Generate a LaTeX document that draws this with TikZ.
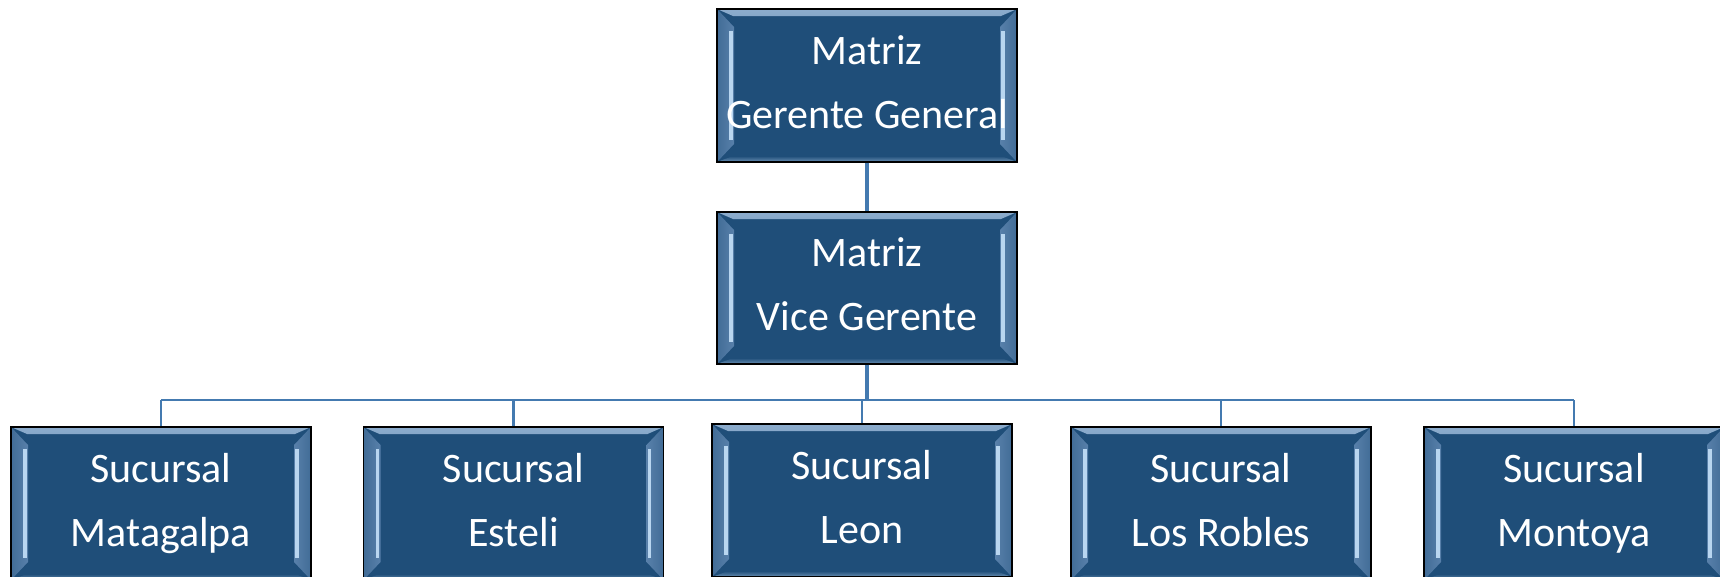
\documentclass[tikz,border=0pt]{standalone}
\usepackage{fontspec}
\setmainfont{Carlito}
\usetikzlibrary{calc}
\definecolor{boxfill}{RGB}{31,78,121}
\definecolor{bevelmid}{RGB}{88,128,170}
\definecolor{bevellite}{RGB}{185,214,240}
\definecolor{edgelite}{RGB}{140,172,205}
\definecolor{linkblue}{RGB}{68,122,176}
% fixed struts so every box sets its two lines at the same heights
\newcommand{\hitop}{\rule{0pt}{31pt}}
\newcommand{\lobot}{\rule[-10pt]{0pt}{10pt}}
\tikzset{
  orgbox/.style={
    draw=black, line width=1.4pt, fill=boxfill,
    minimum width=300pt, minimum height=153pt, inner sep=0pt,
    text=white, align=center,
    font=\fontsize{42}{64}\selectfont,
    path picture={
      \def\pb{path picture bounding box}
      % top and bottom rims
      \shade[top color=edgelite, bottom color=boxfill]
        (\pb.north west) -- (\pb.north east) -- ($(\pb.north east)+(-16,7)$)
        -- ($(\pb.north west)+(16,7)$) -- cycle;
      \shade[top color=boxfill, bottom color=edgelite!70!boxfill]
        (\pb.south west) -- (\pb.south east) -- ($(\pb.south east)+(-16,-6)$)
        -- ($(\pb.south west)+(16,-6)$) -- cycle;
      % side bevels
      \shade[left color=bevelmid!60!boxfill, right color=bevelmid]
        (\pb.north west) -- ($(\pb.north west)+(17,18)$)
        -- ($(\pb.south west)+(17,-18)$) -- (\pb.south west) -- cycle;
      \shade[left color=bevelmid, right color=bevelmid!60!boxfill]
        (\pb.north east) -- ($(\pb.north east)+(-17,18)$)
        -- ($(\pb.south east)+(-17,-18)$) -- (\pb.south east) -- cycle;
      % highlight lines on the bevels
      \draw[bevellite, line width=3.5pt]
        ($(\pb.north west)+(14,22)$) -- ($(\pb.south west)+(14,-22)$);
      \draw[bevellite, line width=3.5pt]
        ($(\pb.north east)+(-14,22)$) -- ($(\pb.south east)+(-14,-22)$);
    }
  },
  link/.style={draw=linkblue, line width=2.2pt},
  stem/.style={draw=linkblue, line width=3.4pt}
}
\begin{document}
\begin{tikzpicture}[x=1pt,y=-1pt]
\useasboundingbox (0,0) rectangle (1720,576);

\node[orgbox] (gg) at (867,85.5) {\hitop Matriz\\Gerente General\lobot};
\node[orgbox, minimum height=152pt] (vg) at (867,288) {\hitop Matriz\\Vice Gerente\lobot};

\node[orgbox] (mat) at (161,503.5) {\hitop Sucursal\\Matagalpa\lobot};
\node[orgbox] (est) at (513.5,503.5) {\hitop Sucursal\\Esteli\lobot};
\node[orgbox] (leo) at (862,500.5) {\hitop Sucursal\\Leon\lobot};
\node[orgbox] (rob) at (1221,503.5) {\hitop Sucursal\\Los Robles\lobot};
\node[orgbox] (mon) at (1574,503.5) {\hitop Sucursal\\Montoya\lobot};

\coordinate (bus) at (0,400);

\draw[stem] (gg.south) -- (vg.north);
\draw[stem] (vg.south) -- (vg.south |- bus);
\draw[link] (mat.north |- bus) -- (mon.north |- bus);
\foreach \b in {mat,est,leo,rob,mon}
  \draw[link] (\b.north) -- (\b.north |- bus);
\end{tikzpicture}
\end{document}
